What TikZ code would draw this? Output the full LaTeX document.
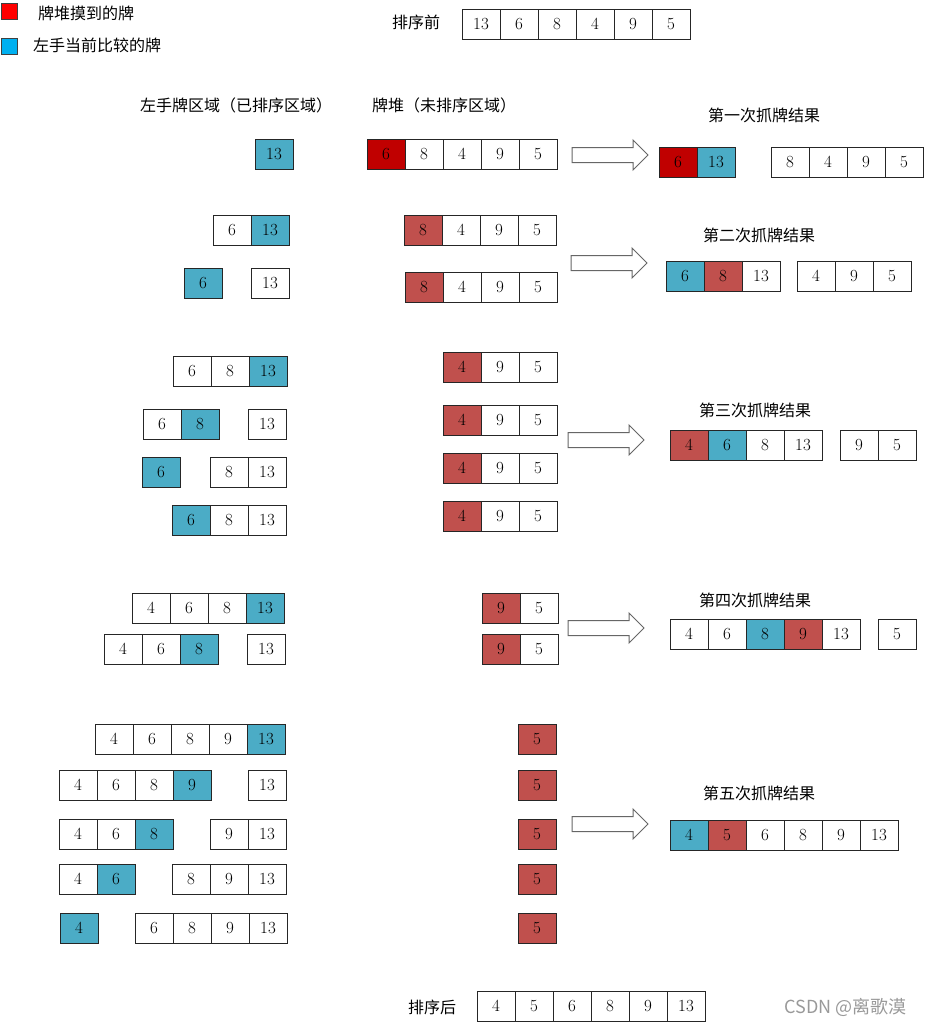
\documentclass[tikz,border=0pt]{standalone}
\usepackage{fontspec}
\newfontfamily\cjk{Noto Sans CJK SC}
\definecolor{lblue}{HTML}{4BACC6}
\definecolor{lred}{HTML}{C0504D}
\definecolor{dred}{HTML}{C00000}
\definecolor{legred}{HTML}{FF0000}
\definecolor{legblue}{HTML}{00B0F0}
\tikzset{
  card/.style={draw=black!85, line width=1pt, fill=white, minimum width=38pt, minimum height=30pt,
    inner sep=0pt, outer sep=0pt, font=\fontsize{17}{17}\selectfont},
  W/.style={},
  B/.style={fill=lblue},
  R/.style={fill=lred},
  D/.style={fill=dred},
  lbl/.style={inner sep=0pt, font=\cjk\fontsize{16}{16}\selectfont},
  legsq/.style={draw=black!75, line width=1pt, minimum size=16pt, inner sep=0pt},
  barr/.style={draw=black!60, line width=1pt, fill=white}
}
\newcommand\cards[4]{\foreach \s/\l [count=\i] in {#4}{\node[card,\s] (#1-\i) at ({#2+(\i-1)*38+19},{#3+15}) {\l};}}
\newcommand\barrow[3]{\draw[barr] (#2,#3) ++(0,-7.5) -- ++(61,0) -- ++(0,-7.5) -- ++(15,15) -- ++(-15,15) -- ++(0,-7.5) -- ++(-61,0) -- cycle;}
\begin{document}
\begin{tikzpicture}[x=1pt,y=-1pt]
\useasboundingbox (0,0) rectangle (924,1023);
% legend
\node[legsq, fill=legred] (lg1) at (9,11) {};
\node[lbl, anchor=west] (lt1) at (38,13) {牌堆摸到的牌};
\node[legsq, fill=legblue] (lg2) at (9,46) {};
\node[lbl, anchor=west] (lt2) at (33,45) {左手当前比较的牌};
% before
\node[lbl] (before) at (416,22) {排序前};
\cards{s0}{462}{9}{W/13,W/6,W/8,W/4,W/9,W/5}
% headers
\node[lbl, anchor=west] (h1) at (140,105) {左手牌区域（已排序区域）};
\node[lbl, anchor=west] (h2) at (372,105) {牌堆（未排序区域）};
% row 1
\cards{L1}{255}{139}{B/13}
\cards{P1}{367}{139}{D/6,W/8,W/4,W/9,W/5}
\barrow{a1}{572}{155}
\node[lbl] (t1) at (764,115) {第一次抓牌结果};
\cards{R1a}{659}{147}{D/6,B/13}
\cards{R1b}{771}{147}{W/8,W/4,W/9,W/5}
% row 2
\cards{L2a}{213}{215}{W/6,B/13}
\cards{P2a}{404}{215}{R/8,W/4,W/9,W/5}
\cards{L2b}{184}{268}{B/6}
\cards{L2c}{251}{268}{W/13}
\cards{P2b}{405}{272}{R/8,W/4,W/9,W/5}
\barrow{a2}{571}{263}
\node[lbl] (t2) at (759,235) {第二次抓牌结果};
\cards{R2a}{666}{261}{B/6,R/8,W/13}
\cards{R2b}{797}{261}{W/4,W/9,W/5}
% row 3
\cards{L3a}{173}{356}{W/6,W/8,B/13}
\cards{P3a}{443}{352}{R/4,W/9,W/5}
\cards{L3b}{143}{409}{W/6,B/8}
\cards{L3c}{248}{409}{W/13}
\cards{P3b}{443}{405}{R/4,W/9,W/5}
\cards{L3d}{142}{457}{B/6}
\cards{L3e}{210}{457}{W/8,W/13}
\cards{P3c}{443}{453}{R/4,W/9,W/5}
\cards{L3f}{172}{505}{B/6,W/8,W/13}
\cards{P3d}{443}{501}{R/4,W/9,W/5}
\barrow{a3}{568}{440}
\node[lbl] (t3) at (755,410) {第三次抓牌结果};
\cards{R3a}{670}{430}{R/4,B/6,W/8,W/13}
\cards{R3b}{840}{430}{W/9,W/5}
% row 4
\cards{L4a}{132}{593}{W/4,W/6,W/8,B/13}
\cards{L4b}{104}{634}{W/4,W/6,B/8}
\cards{L4c}{247}{634}{W/13}
\cards{P4a}{482}{593}{R/9,W/5}
\cards{P4b}{482}{634}{R/9,W/5}
\barrow{a4}{568}{628}
\node[lbl] (t4) at (755,600) {第四次抓牌结果};
\cards{R4a}{670}{619}{W/4,W/6,B/8,R/9,W/13}
\cards{R4b}{878}{619}{W/5}
% row 5
\cards{L5a}{95}{724}{W/4,W/6,W/8,W/9,B/13}
\cards{L5b}{59}{770}{W/4,W/6,W/8,B/9}
\cards{L5c}{248}{770}{W/13}
\cards{L5d}{59}{819}{W/4,W/6,B/8}
\cards{L5e}{210}{819}{W/9,W/13}
\cards{L5f}{59}{864}{W/4,B/6}
\cards{L5g}{172}{864}{W/8,W/9,W/13}
\cards{L5h}{60}{913}{B/4}
\cards{L5i}{135}{913}{W/6,W/8,W/9,W/13}
\cards{P5a}{518}{724}{R/5}
\cards{P5b}{518}{770}{R/5}
\cards{P5c}{518}{819}{R/5}
\cards{P5d}{518}{864}{R/5}
\cards{P5e}{518}{913}{R/5}
\barrow{a5}{572}{824}
\node[lbl] (t5) at (759,793) {第五次抓牌结果};
\cards{R5}{670}{820}{B/4,R/5,W/6,W/8,W/9,W/13}
% after
\node[lbl] (after) at (432,1007) {排序后};
\cards{s9}{477}{991}{W/4,W/5,W/6,W/8,W/9,W/13}
\node[inner sep=0pt, anchor=east, text=black!40, font=\cjk\fontsize{18}{18}\selectfont] (wm) at (907,1007) {CSDN @离歌漠};
\end{tikzpicture}
\end{document}
